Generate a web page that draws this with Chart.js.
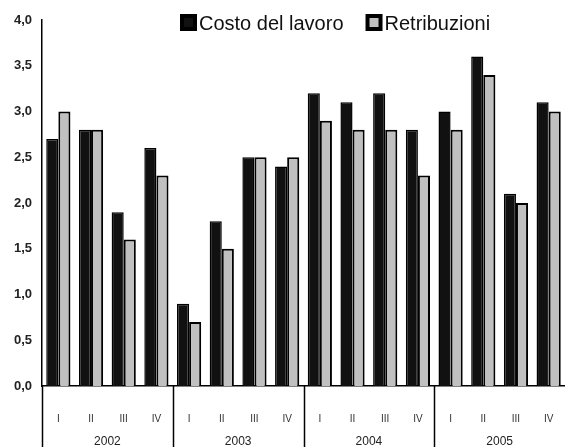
<!DOCTYPE html>
<html>
<head>
<meta charset="utf-8">
<script src="https://cdn.jsdelivr.net/npm/chart.js@4"></script>
<style>
  html, body { margin: 0; padding: 0; background: #fff; overflow: hidden; }
  #wrap { width: 565px; height: 447px; position: relative; }
  canvas { display: block; }
</style>
</head>
<body>
<div id="wrap"><canvas id="chart"></canvas></div>
<script>
// quarters and years on the x axis
const quarters = ['I', 'II', 'III', 'IV'];
const years = ['2002', '2003', '2004', '2005'];
const labels = years.flatMap(() => quarters);

// values (% change)
const costoLavoro = [2.7, 2.8, 1.9, 2.6, 0.9, 1.8, 2.5, 2.4, 3.2, 3.1, 3.2, 2.8, 3.0, 3.6, 2.1, 3.1];
const retribuzioni = [3.0, 2.8, 1.6, 2.3, 0.7, 1.5, 2.5, 2.5, 2.9, 2.8, 2.8, 2.3, 2.8, 3.4, 2.0, 3.0];

const FONT = '"Liberation Sans", Arial, sans-serif';

// year labels + separators under the axis, and the legend inside the plot
const extras = {
  id: 'extras',
  afterDraw(chart) {
    const ctx = chart.ctx;
    const x = chart.scales.x;
    const area = chart.chartArea;
    const H = chart.height;
    ctx.save();
    ctx.strokeStyle = '#000';
    ctx.lineWidth = 1.5;
    ctx.fillStyle = '#222';
    ctx.font = '12px ' + FONT;
    ctx.textAlign = 'center';
    ctx.textBaseline = 'middle';
    years.forEach((yr, i) => {
      const first = i * quarters.length;
      const last = first + quarters.length - 1;
      let left = area.left;
      if (i > 0) left = (x.getPixelForValue(first - 1) + x.getPixelForValue(first)) / 2;
      ctx.beginPath();
      ctx.moveTo(Math.round(left) + 0.5, area.bottom);
      ctx.lineTo(Math.round(left) + 0.5, H);
      ctx.stroke();
      const mid = (x.getPixelForValue(first) + x.getPixelForValue(last)) / 2;
      ctx.fillText(yr, mid, 442);
    });

    // legend
    ctx.font = '20px ' + FONT;
    ctx.textAlign = 'left';
    ctx.textBaseline = 'middle';
    let lx = 180;
    const ly = 14;
    chart.data.datasets.forEach(ds => {
      ctx.fillStyle = '#000';
      ctx.fillRect(lx, ly, 17, 17);
      ctx.fillStyle = ds.backgroundColor;
      ctx.fillRect(lx + 4, ly + 4, 9, 9);
      ctx.fillStyle = '#111';
      ctx.fillText(ds.label, lx + 19, ly + 10);
      lx += 19 + ctx.measureText(ds.label).width + 22;
    });
    ctx.restore();
  }
};

new Chart(document.getElementById('chart'), {
  type: 'bar',
  data: {
    labels: labels,
    datasets: [
      {
        label: 'Costo del lavoro',
        data: costoLavoro,
        backgroundColor: '#111111',
        borderColor: '#000',
        borderWidth: 1.5
      },
      {
        label: 'Retribuzioni',
        data: retribuzioni,
        backgroundColor: '#c0c0c0',
        borderColor: '#000',
        borderWidth: 2
      }
    ]
  },
  options: {
    responsive: true,
    maintainAspectRatio: false,
    animation: false,
    layout: { padding: { top: 20, right: -4, left: 0, bottom: 0 } },
    plugins: {
      legend: { display: false },
      tooltip: { enabled: false }
    },
    datasets: {
      bar: { barPercentage: 1, categoryPercentage: 0.74 }
    },
    scales: {
      x: {
        grid: { display: false },
        border: { display: true, color: '#000', width: 1.5 },
        ticks: {
          color: '#333',
          padding: 19,
          autoSkip: false,
          maxRotation: 0,
          font: { family: FONT, size: 10 }
        },
        afterFit: s => { s.height = 61; s.paddingLeft = 0; s.paddingRight = 0; }
      },
      y: {
        min: 0,
        max: 4,
        grid: { display: false, drawTicks: false },
        border: { display: true, color: '#000', width: 1.5 },
        ticks: {
          stepSize: 0.5,
          color: '#222',
          padding: 10,
          font: { family: FONT, size: 13, weight: 'bold' },
          callback: v => v.toFixed(1).replace('.', ',')
        },
        afterFit: s => { s.width = 42; }
      }
    }
  },
  plugins: [extras]
});
</script>
</body>
</html>
